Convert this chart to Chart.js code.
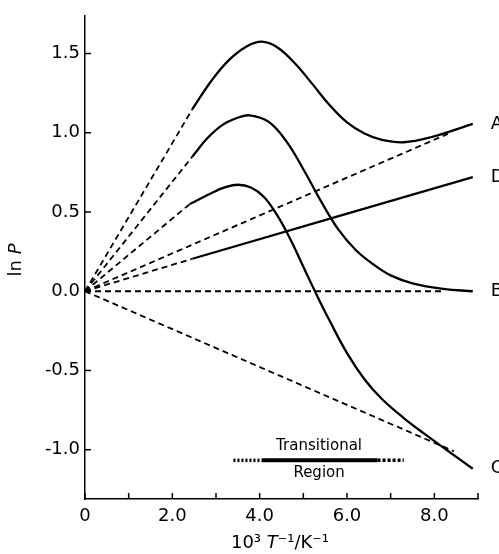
<!DOCTYPE html>
<html>
<head>
<meta charset="utf-8">
<script src="https://cdn.jsdelivr.net/npm/chart.js@4.4.1/dist/chart.umd.min.js"></script>
<style>
body { margin: 0; background: #fff; }
#wrap { width: 499px; height: 554px; position: relative; }
</style>
</head>
<body>
<div id="wrap"><canvas id="lnP"></canvas></div>
<script>
// solid parts of the curves (x = 10^3/T, y = ln P)
const aX = [2.46, 2.9, 3.3, 3.7, 4.05, 4.4, 4.8, 5.2, 5.6, 6.0, 6.4, 6.8, 7.3, 7.9, 8.88];
const aY = [1.15, 1.33, 1.46, 1.545, 1.575, 1.54, 1.44, 1.31, 1.175, 1.065, 0.995, 0.955, 0.94, 0.97, 1.056];

const bX = [2.46, 2.8, 3.15, 3.5, 3.77, 4.2, 4.6, 5.0, 5.4, 5.8, 6.2, 6.6, 7.0, 7.5, 8.2, 8.88];
const bY = [0.85, 0.965, 1.05, 1.095, 1.11, 1.07, 0.95, 0.77, 0.57, 0.39, 0.26, 0.17, 0.1, 0.05, 0.015, 0.0];

const cX = [2.40, 2.9, 3.2, 3.5, 3.8, 4.1, 4.4, 4.7, 5.0, 5.3, 5.6, 6.0, 6.4, 6.8, 7.3, 7.8, 8.3, 8.88];
const cY = [0.55, 0.62, 0.655, 0.672, 0.655, 0.595, 0.48, 0.33, 0.155, -0.02, -0.185, -0.39, -0.555, -0.68, -0.80, -0.905, -1.005, -1.12];

const dX = [2.46, 8.88];
const dY = [0.205, 0.72];

// dashed straight lines from the origin
const guideEndX = [8.31, 8.22, 8.45];
const guideEndY = [0.993, 0.0, -1.01];

// transitional region bar
const barY = -1.067;
const barDotX = [3.4, 4.05, 6.7, 7.3];

const curveNames = ['A', 'D', 'B', 'C'];
const xLabelled = [0, 2, 4, 6, 8];
const yTickValues = [-1.0, -0.5, 0.0, 0.5, 1.0, 1.5];

const FONT = '"DejaVu Sans", sans-serif';

function pts(xs, ys) {
    return xs.map((x, i) => ({ x: x, y: ys[i] }));
}

function solid(xs, ys) {
    return {
        data: pts(xs, ys),
        borderColor: '#000',
        borderWidth: 2.3,
        pointRadius: 0,
        tension: 0.4,
        fill: false
    };
}

function dashed(data) {
    return {
        data: data,
        borderColor: '#000',
        borderWidth: 1.8,
        borderDash: [6, 4],
        pointRadius: 0,
        fill: false
    };
}

const curves = [[aX, aY], [dX, dY], [bX, bY], [cX, cY]];

const datasets = [];
curves.forEach(c => {
    datasets.push(dashed([{ x: 0, y: 0 }, { x: c[0][0], y: c[1][0] }]));
    datasets.push(solid(c[0], c[1]));
});
guideEndX.forEach((x, i) => {
    datasets.push(dashed([{ x: 0, y: 0 }, { x: x, y: guideEndY[i] }]));
});
// bar: dotted - solid - dotted
datasets.push({
    data: [{ x: barDotX[0], y: barY }, { x: barDotX[1], y: barY }],
    borderColor: '#000', borderWidth: 3.5, borderDash: [2, 2], pointRadius: 0
});
datasets.push({
    data: [{ x: barDotX[1], y: barY }, { x: barDotX[2], y: barY }],
    borderColor: '#000', borderWidth: 4, pointRadius: 0
});
datasets.push({
    data: [{ x: barDotX[2], y: barY }, { x: barDotX[3], y: barY }],
    borderColor: '#000', borderWidth: 3.5, borderDash: [3, 2], pointRadius: 0
});

// ticks inside the axes, curve letters, titles
const decorations = {
    id: 'decorations',
    afterDraw(chart) {
        const ctx = chart.ctx;
        const xs = chart.scales.x, ys = chart.scales.y;
        const area = chart.chartArea;
        ctx.save();
        ctx.strokeStyle = '#000';
        ctx.lineWidth = 1.5;
        ys.ticks.forEach(t => {
            const p = ys.getPixelForValue(t.value);
            ctx.beginPath();
            ctx.moveTo(area.left, p);
            ctx.lineTo(area.left + 6, p);
            ctx.stroke();
        });
        xs.ticks.forEach(t => {
            const p = xs.getPixelForValue(t.value);
            ctx.beginPath();
            ctx.moveTo(p, area.bottom);
            ctx.lineTo(p, area.bottom - 6);
            ctx.stroke();
        });

        ctx.fillStyle = '#000';
        ctx.textBaseline = 'middle';
        ctx.textAlign = 'left';
        ctx.font = '18px ' + FONT;
        curves.forEach((c, i) => {
            const n = c[0].length - 1;
            ctx.fillText(curveNames[i], xs.getPixelForValue(c[0][n]) + 18, ys.getPixelForValue(c[1][n]));
        });

        // transitional region text
        ctx.textAlign = 'center';
        ctx.font = '15px ' + FONT;
        const bx = xs.getPixelForValue(5.36), by = ys.getPixelForValue(barY);
        ctx.fillText('Transitional', bx, by - 14);
        ctx.fillText('Region', bx, by + 13);

        // y title "ln P"
        ctx.save();
        ctx.translate(16, 260);
        ctx.rotate(-Math.PI / 2);
        ctx.font = '18px ' + FONT;
        const w1 = ctx.measureText('ln ').width;
        ctx.font = 'italic 18px ' + FONT;
        const w2 = ctx.measureText('P').width;
        ctx.textAlign = 'left';
        ctx.font = '18px ' + FONT;
        ctx.fillText('ln ', -(w1 + w2) / 2, 0);
        ctx.font = 'italic 18px ' + FONT;
        ctx.fillText('P', -(w1 + w2) / 2 + w1, 0);
        ctx.restore();

        // x title "10³ T⁻¹/K⁻¹"
        const parts = [['10³ ', ''], ['T', 'italic '], ['⁻¹/K⁻¹', '']];
        let total = 0;
        parts.forEach(p => { ctx.font = p[1] + '18px ' + FONT; total += ctx.measureText(p[0]).width; });
        let x0 = 280 - total / 2;
        ctx.textAlign = 'left';
        parts.forEach(p => {
            ctx.font = p[1] + '18px ' + FONT;
            ctx.fillText(p[0], x0, 543);
            x0 += ctx.measureText(p[0]).width;
        });
        ctx.restore();
    }
};

new Chart(document.getElementById('lnP'), {
    type: 'line',
    data: { datasets: datasets },
    options: {
        responsive: true,
        maintainAspectRatio: false,
        animation: false,
        layout: { padding: { top: 13, right: 21, left: 0, bottom: 0 } },
        plugins: { legend: { display: false }, tooltip: { enabled: false } },
        scales: {
            x: {
                type: 'linear',
                min: 0,
                max: 9,
                afterFit(scale) { scale.height = 55; },
                grid: { display: false, drawTicks: false },
                border: { display: true, color: '#000', width: 1.5 },
                ticks: {
                    stepSize: 1,
                    padding: 7,
                    color: '#000',
                    font: { family: FONT, size: 18 },
                    maxRotation: 0,
                    autoSkip: false,
                    callback: v => xLabelled.includes(v) ? (v === 0 ? '0' : v.toFixed(1)) : ''
                }
            },
            y: {
                min: -1.311,
                max: 1.738,
                afterFit(scale) { scale.width = 85; },
                afterBuildTicks(scale) { scale.ticks = yTickValues.map(v => ({ value: v })); },
                grid: { display: false, drawTicks: false },
                border: { display: true, color: '#000', width: 1.5 },
                ticks: {
                    padding: 5,
                    color: '#000',
                    font: { family: FONT, size: 18 },
                    callback: v => v.toFixed(1)
                }
            }
        }
    },
    plugins: [decorations]
});
</script>
</body>
</html>
